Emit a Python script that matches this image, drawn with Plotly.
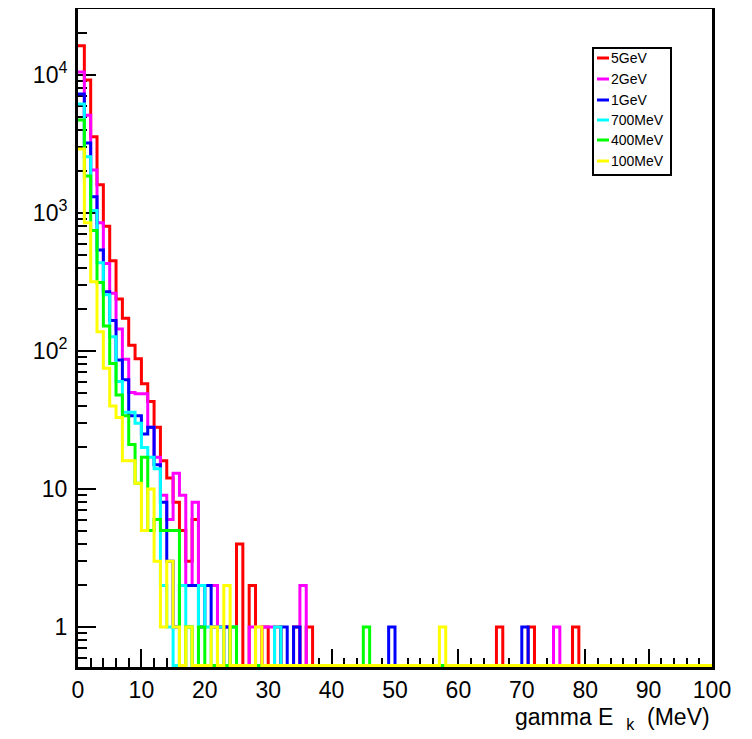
import numpy as np
import plotly.graph_objects as go

# ---------------- data (counts per 1 MeV bin, 0-100 MeV) ----------------
n_bins = 100
x_min, x_max = 0.0, 100.0

series_names = ["5GeV", "2GeV", "1GeV", "700MeV", "400MeV", "100MeV"]
series_colors = ["#ff0000", "#ff00ff", "#0000ff", "#00ffff", "#00ff00", "#ffff00"]

# counts for bins 0..39
head_5GeV = [16300, 9200, 3570, 1600, 800, 450, 238, 173, 110, 88,
             58, 43, 28, 16, 12, 8, 5, 3, 6, 2,
             2, 2, 1, 1, 0, 4, 0, 2, 0, 1,
             0, 1, 0, 0, 1, 0, 1, 0, 0, 0]
head_2GeV = [10500, 5100, 2050, 850, 430, 262, 144, 87, 50, 49,
             49, 28, 17, 9, 6, 13, 9, 2, 8, 2,
             2, 2, 1, 1, 1, 0, 0, 1, 0, 1,
             1, 0, 0, 0, 0, 2, 0, 0, 0, 0]
head_1GeV = [7280, 3210, 1310, 540, 269, 166, 86, 62, 34, 34,
             25, 28, 15, 8, 3, 1, 2, 2, 2, 1,
             2, 1, 0, 1, 0, 0, 0, 0, 0, 0,
             0, 0, 1, 0, 1, 0, 0, 0, 0, 0]
head_700MeV = [6150, 2560, 1040, 436, 255, 127, 60, 36, 36, 30,
               20, 17, 14, 2, 1, 0, 2, 1, 0, 2,
               1, 0, 1, 0, 1, 0, 0, 0, 0, 0,
               0, 1, 0, 0, 0, 0, 0, 0, 0, 0]
head_400MeV = [4720, 1850, 745, 313, 152, 81, 48, 34, 21, 11,
               17, 5, 6, 5, 5, 5, 0, 1, 0, 1,
               0, 0, 0, 0, 1, 0, 0, 0, 0, 0,
               0, 0, 0, 0, 0, 0, 0, 0, 0, 0]
head_100MeV = [2910, 850, 318, 138, 75, 40, 33, 16, 16, 11,
               5, 10, 3, 1, 3, 1, 0, 1, 0, 0,
               0, 1, 0, 2, 0, 0, 0, 0, 1, 0,
               0, 0, 0, 0, 0, 0, 0, 0, 0, 0]

# isolated single-count bins beyond 40 MeV
tail_5GeV = [66, 71, 78]
tail_2GeV = [75]
tail_1GeV = [49, 70]
tail_700MeV = []
tail_400MeV = [45]
tail_100MeV = [57]

heads = [head_5GeV, head_2GeV, head_1GeV, head_700MeV, head_400MeV, head_100MeV]
tails = [tail_5GeV, tail_2GeV, tail_1GeV, tail_700MeV, tail_400MeV, tail_100MeV]

x_ticks = [0, 10, 20, 30, 40, 50, 60, 70, 80, 90, 100]
y_ticks = [1, 10, 100, 1000, 10000]
y_tick_text = ["1", "10", "10<sup>2</sup>", "10<sup>3</sup>", "10<sup>4</sup>"]

# ---------------- figure ----------------
OFF = 8                      # page body margin of the html page
W, H = 744, 731
ML, MR, MT, MB = 70, 40, 1, 72
y_lo, y_hi = -0.2899, 4.478
floor = 10 ** (y_lo + 1.6 / 138.0)   # empty bins drawn on the axis floor (ROOT style)

edges = np.linspace(x_min, x_max, n_bins + 1)

def full_counts(head, tail):
    c = np.zeros(n_bins)
    c[:len(head)] = head
    for b in tail:
        c[b] = 1
    return c

def step_xy(counts):
    c = np.where(counts > 0, counts, floor)
    xs = edges
    ys = np.concatenate([c, [c[-1]]])
    return xs, ys

fig = go.Figure()
for name, col, head, tail in zip(series_names, series_colors, heads, tails):
    xs, ys = step_xy(full_counts(head, tail))
    fig.add_trace(go.Scatter(x=xs, y=ys, mode="lines", name=name,
                             line=dict(color=col, width=3, shape="hv"),
                             showlegend=False, hoverinfo="skip"))

FONT = "Liberation Sans, Arial, Helvetica, sans-serif"

minor_y = [m * 10 ** e for e in range(-1, 5) for m in range(2, 10)]

fig.update_layout(
    width=W, height=H,
    margin=dict(l=ML, r=MR, t=MT, b=MB, pad=0, autoexpand=False),
    paper_bgcolor="white", plot_bgcolor="white",
    font=dict(family=FONT, color="black", size=23),
    xaxis=dict(range=[x_min, x_max], showgrid=False, zeroline=False,
               showline=True, linecolor="black", linewidth=3, mirror=True,
               tickvals=x_ticks, ticks="inside", ticklen=18, tickwidth=2,
               tickcolor="black", tickfont=dict(size=23, family=FONT),
               minor=dict(dtick=2, ticks="inside", ticklen=9, tickwidth=2,
                          tickcolor="black", showgrid=False),
               layer="below traces"),
    yaxis=dict(type="log", range=[y_lo, y_hi], showgrid=False, zeroline=False,
               showline=True, linecolor="black", linewidth=3, mirror=True,
               tickvals=y_ticks, ticktext=y_tick_text, ticks="inside",
               ticklen=18, tickwidth=2, tickcolor="black",
               tickfont=dict(size=23, family=FONT), ticklabelstandoff=3,
               minor=dict(tickvals=minor_y, ticks="inside", ticklen=9,
                          tickwidth=2, tickcolor="black", showgrid=False),
               layer="below traces"),
)

# helpers: page pixel -> paper
PW, PH = W - ML - MR, H - MT - MB
def px(x):
    return (x - OFF - ML) / PW
def py(y):
    return (OFF + H - MB - y) / PH

# x axis title
fig.add_annotation(x=px(712), y=py(702), xref="paper", yref="paper",
                   xanchor="right", yanchor="top", showarrow=False,
                   text="gamma E&nbsp;&nbsp;<sub>k</sub>&nbsp;&nbsp;(MeV)",
                   font=dict(size=23, family=FONT, color="black"))

# legend box (drawn manually, ROOT TLegend look)
fig.add_shape(type="rect", xref="paper", yref="paper",
              x0=px(593), x1=px(671), y0=py(175), y1=py(48),
              line=dict(color="black", width=2), fillcolor="white", layer="above")
row_y = [58, 79, 100, 120, 140, 161]
for name, col, ry in zip(series_names, series_colors, row_y):
    fig.add_shape(type="line", xref="paper", yref="paper",
                  x0=px(597), x1=px(609), y0=py(ry), y1=py(ry),
                  line=dict(color=col, width=3), layer="above")
    fig.add_annotation(x=px(609), y=py(ry), xref="paper", yref="paper",
                       xanchor="left", yanchor="middle", showarrow=False,
                       text=name, font=dict(size=14, family=FONT, color="black"))

fig.write_html("out.html")
